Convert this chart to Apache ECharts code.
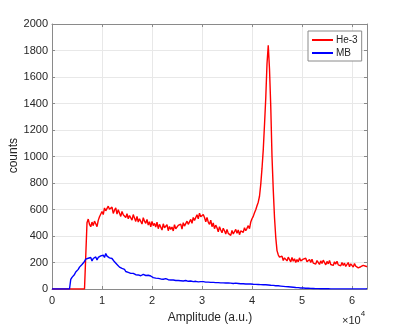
<!DOCTYPE html>
<html>
<head>
<meta charset="utf-8">
<script src="https://cdn.jsdelivr.net/npm/echarts@6/dist/echarts.min.js"></script>
<style>html,body{margin:0;padding:0;background:#fff}#c{width:407px;height:326px}</style>
</head>
<body>
<div id="c"></div>
<script>
// Sampling grid of the amplitude axis (a.u.)
const ampStep = 250;
const ampCount = 253; // 0 .. 63000
const amplitude = Array.from({length: ampCount}, (_, i) => i * ampStep);

// Counts per amplitude bin (every 250 a.u.)
const he3Counts = [
  0,0,0,0, 0,0,0,0, 0,0,0,0, 0,0,0,0, 0,0,0,0, 0,0,0,0, 0,0,0,0,
  500,528,488,470, 505,478,512,492, 470,518,545,538,
  585,562,612,590, 575,625,602,588, 618,570,595,612,
  565,598,585,548, 585,560,572,540, 568,530,555,548,
  520,562,535,510, 548,505,530,520, 490,538,512,495,
  525,482,508,470, 510,478,495,468, 505,455,488,480,
  445,492,462,470, 485,440,472,450, 468,438,485,455,
  448,480,465,490, 452,500,475,470, 512,488,498,525,
  495,540,518,505, 560,530,572,545, 532,562,540,508,
  540,505,488,520, 470,498,455,482, 462,432,470,445,
  425,458,440,415, 450,420,435,405, 442,415,428,450,
  420,445,410,438, 452,428,462,440, 458,478,455,505,
  530,548,575,598, 628,655,700,790, 910,1050,1240,1440,
  1700,1840,1660,1380, 1000,750,540,390, 290,258,240,228,
  248,215,235,222, 212,240,225,205, 238,210,228,200,
  222,205,235,212, 198,225,210,232, 205,190,222,200,
  225,195,210,188, 215,200,185,212, 192,218,200,182,
  208,190,215,185, 195,178,205,188, 210,182,192,175,
  200,178,195,170, 185,200,168,190, 178,165,192,172,
  182,160,175,168, 158,178,165,172, 168
];
const mbCounts = [
  0,0,0,0, 0,0,0,0, 0,0,0,0, 0,0,0,72,
  88,102,110,128, 138,148,165,160, 185,198,208,225,
  215,232,220,238, 212,230,225,242, 220,238,232,250,
  240,255,238,268, 248,258,235,245, 230,215,205,190,
  185,172,165,152, 155,140,148,132, 138,125,132,118,
  122,118,126,108, 115,106,112,100, 104,110,96,102,
  96,104,92,98, 102,86,96,82, 95,80,90,76,
  90,74,84,78, 86,70,80,68, 82,68,76,64,
  78,64,74,62, 76,60,72,64, 70,58,72,60,
  70,56,66,58, 68,54,64,56, 68,56,62,52,
  64,52,62,50, 64,50,58,48, 60,48,58,46,
  60,46,56,45, 58,46,54,44, 56,42,54,44,
  54,42,52,40, 54,40,50,38, 50,38,48,38,
  50,36,46,35, 48,34,45,33, 46,32,42,32,
  42,30,40,28, 40,27,37,25, 36,24,33,22,
  33,20,30,18, 28,17,26,15, 24,13,22,11,
  20,10,17,8, 16,8,14,6, 13,6,11,5,
  11,4,9,3, 9,3,8,2, 8,2,7,2,
  7,2,6,1, 6,1,5,1, 6,1,5,1,
  5,1,5,1, 5,1,4,1, 5,1,4,1,
  4,1,4,1, 4,1,4,1, 3
];
const seriesNames = ['He-3', 'MB'];
const xTickValues = [0, 10000, 20000, 30000, 40000, 50000, 60000];
const yTickValues = [0, 200, 400, 600, 800, 1000, 1200, 1400, 1600, 1800, 2000];

const FONT = 'Liberation Sans, Arial, Helvetica, sans-serif';
const TXT = '#262626';
const AX = '#8a8a8a';
const GRIDC = '#e8e8e8';

const chart = echarts.init(document.getElementById('c'), null, {renderer: 'canvas'});
const baseAxis = {
  axisLine: {show: true, onZero: false, lineStyle: {color: AX, width: 1}},
  axisTick: {show: true, inside: true, length: 3, lineStyle: {color: AX}},
  splitLine: {show: false},
  axisLabel: {show: false}
};
chart.setOption({
  animation: false,
  textStyle: {fontFamily: FONT},
  grid: {left: 52, top: 24, right: 40, bottom: 37, containLabel: false},
  xAxis: [
    Object.assign({}, baseAxis, {
      type: 'value', min: 0, max: 63000, interval: 10000, position: 'bottom',
      splitLine: {show: true, lineStyle: {color: GRIDC, width: 1}},
      axisLabel: {show: true, color: TXT, fontSize: 11, fontFamily: FONT, margin: 6,
        showMaxLabel: false,
        formatter: v => xTickValues.indexOf(v) >= 0 ? String(v / 10000) : ''}
    }),
    Object.assign({}, baseAxis, {
      type: 'value', min: 0, max: 63000, interval: 10000, position: 'top'
    })
  ],
  yAxis: [
    Object.assign({}, baseAxis, {
      type: 'value', min: 0, max: 2000, interval: 200, position: 'left',
      splitLine: {show: true, lineStyle: {color: GRIDC, width: 1}},
      axisLabel: {show: true, color: TXT, fontSize: 11, fontFamily: FONT, margin: 4,
        formatter: v => yTickValues.indexOf(v) >= 0 ? String(v) : ''}
    }),
    Object.assign({}, baseAxis, {
      type: 'value', min: 0, max: 2000, interval: 200, position: 'right'
    })
  ],
  legend: {
    show: true,
    orient: 'vertical',
    left: 308, top: 31,
    padding: [4, 4, 3, 4],
    itemGap: 3,
    itemWidth: 21, itemHeight: 2,
    icon: 'rect',
    backgroundColor: '#fff',
    borderColor: '#8a8a8a', borderWidth: 1,
    textStyle: {color: TXT, fontSize: 10, fontFamily: FONT, padding: [0, 0, 0, -2]},
    data: seriesNames
  },
  series: [
    {
      name: seriesNames[0], type: 'line', xAxisIndex: 0, yAxisIndex: 0,
      data: amplitude.map((a, i) => [a, he3Counts[i]]),
      showSymbol: false, symbol: 'none',
      lineStyle: {color: '#ff0000', width: 1.4},
      itemStyle: {color: '#ff0000'}
    },
    {
      name: seriesNames[1], type: 'line', xAxisIndex: 0, yAxisIndex: 0,
      data: amplitude.map((a, i) => [a, mbCounts[i]]),
      showSymbol: false, symbol: 'none',
      lineStyle: {color: '#0000ff', width: 1.4},
      itemStyle: {color: '#0000ff'}
    }
  ],
  graphic: [
    {type: 'text', left: 8, top: 138, rotation: Math.PI / 2,
      style: {text: 'counts', fill: TXT, font: '12px ' + FONT}},
    {type: 'text', x: 210, y: 318,
      style: {text: 'Amplitude (a.u.)', fill: TXT, font: '12px ' + FONT, textAlign: 'center', textVerticalAlign: 'middle'}},
    {type: 'text', x: 342, y: 310,
      style: {text: '{a|\u00d710}{b|4}', fill: TXT,
        rich: {a: {fontSize: 11, fontFamily: FONT, fill: TXT, color: TXT, verticalAlign: 'bottom', padding: [5, 0, 0, 0]},
               b: {fontSize: 8, fontFamily: FONT, color: TXT, verticalAlign: 'top'}}}}
  ]
});
</script>
</body>
</html>
